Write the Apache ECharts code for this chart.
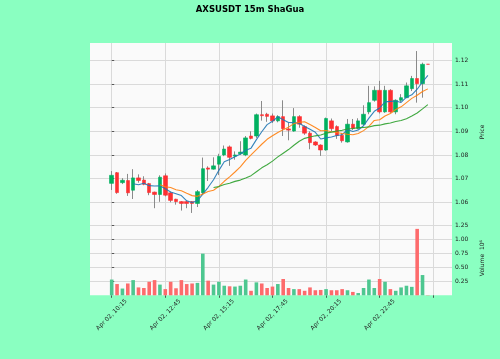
<!DOCTYPE html>
<html><head><meta charset="utf-8">
<script src="https://cdn.jsdelivr.net/npm/echarts@6/dist/echarts.min.js"></script>
<style>html,body{margin:0;padding:0;background:#8affc1;} #c{width:500px;height:359px;}</style>
</head><body><div id="c"></div>
<script>
// ---- data (15m candles, index 0 = Apr 02 10:15) ----
const opens  = [1.0680,1.0725,1.0683,1.0692,1.0651,1.0703,1.0694,1.0679,1.0643,1.0633,
                1.0712,1.0640,1.0613,1.0603,1.0603,1.0603,1.0595,1.0640,1.0745,1.0740,
                1.0761,1.0800,1.0834,1.0795,1.0805,1.0800,1.0880,1.0880,1.0970,1.0972,
                1.0965,1.0944,1.0962,1.0910,1.0901,1.0962,1.0920,1.0892,1.0855,1.0842,
                1.0821,1.0944,1.0920,1.0883,1.0855,1.0930,1.0912,1.0930,1.0982,1.1031,
                1.1073,1.0982,1.1073,1.0982,1.1031,1.1042,1.1080,1.1123,1.1101,1.11832];
const closes = [1.0714,1.0641,1.0693,1.0640,1.0703,1.0692,1.0676,1.0641,1.0633,1.0706,
                1.0630,1.0608,1.0603,1.0595,1.0595,1.0595,1.0645,1.0742,1.0740,1.0754,
                1.0794,1.0825,1.0790,1.0800,1.0812,1.0872,1.0870,1.0970,1.0966,1.0963,
                1.0944,1.0962,1.0911,1.0905,1.0962,1.0930,1.0892,1.0852,1.0842,1.0821,
                1.0954,1.0911,1.0882,1.0860,1.0930,1.0912,1.0944,1.0972,1.1021,1.1073,
                1.0982,1.1073,1.0982,1.1031,1.1042,1.1092,1.1123,1.1101,1.1183,1.1183];
const highs  = [1.0732,1.0728,1.0702,1.0720,1.0740,1.0718,1.0710,1.0682,1.0645,1.0714,
                1.0722,1.0645,1.0615,1.0605,1.0606,1.0605,1.0652,1.0789,1.0752,1.0790,
                1.0805,1.0840,1.0840,1.0815,1.0858,1.0880,1.0900,1.0975,1.1028,1.0978,
                1.0975,1.0968,1.1031,1.0935,1.0998,1.0968,1.0925,1.0900,1.0858,1.0845,
                1.0958,1.0954,1.0925,1.0893,1.0952,1.0952,1.0955,1.1010,1.1092,1.1090,
                1.1113,1.1092,1.1078,1.1035,1.1057,1.1106,1.1134,1.1239,1.1190,1.11832];
const lows   = [1.0652,1.0636,1.0677,1.0627,1.0614,1.0683,1.0672,1.0630,1.0575,1.0602,
                1.0625,1.0600,1.0590,1.0565,1.0575,1.0555,1.0580,1.0635,1.0690,1.0738,
                1.0715,1.0795,1.0754,1.0780,1.0800,1.0795,1.0866,1.0872,1.0945,1.0940,
                1.0935,1.0938,1.0880,1.0862,1.0898,1.0915,1.0885,1.0824,1.0838,1.0796,
                1.0818,1.0900,1.0868,1.0852,1.0852,1.0905,1.0908,1.0925,1.0972,1.1025,
                1.0975,1.0978,1.0978,1.0972,1.1022,1.1040,1.1070,1.1021,1.1042,1.1183];
const volumes = [0.28,0.20,0.12,0.21,0.27,0.14,0.13,0.24,0.27,0.19,
                 0.11,0.24,0.125,0.27,0.20,0.21,0.22,0.74,0.26,0.19,
                 0.24,0.17,0.16,0.155,0.17,0.28,0.08,0.23,0.21,0.13,
                 0.155,0.20,0.29,0.13,0.11,0.11,0.08,0.14,0.09,0.095,
                 0.11,0.09,0.09,0.11,0.09,0.06,0.04,0.13,0.28,0.13,
                 0.29,0.24,0.11,0.08,0.14,0.17,0.15,1.18,0.36,0.005]; // x 10^6
const tickPositions = [0,10,20,30,40,50,60];
const tickLabels = ['Apr 02, 10:15','Apr 02, 12:45','Apr 02, 15:15','Apr 02, 17:45','Apr 02, 20:15','Apr 02, 22:45',''];
const priceTicks = [1.06,1.07,1.08,1.09,1.10,1.11,1.12];
const volumeTicks = [0.25,0.50,0.75,1.00,1.25];
const maWindows = [5,10,20];
const maColors = ['#1f77b4','#ff7f0e','#2ca02c'];

// ---- build ----
const FONT = 'DejaVu Sans';
const GRID = '#dadada';
const UP = '#00b060', DOWN = '#fe3032';
const VUP = '#4dc790', VDOWN = '#fd6b6c';
const n = closes.length;
const wickData = [], bodyData = [], volData = [];
for (let i = 0; i < n; i++) {
  wickData.push([i, opens[i], closes[i], lows[i], highs[i]]);
  bodyData.push([i, opens[i], closes[i], Math.min(opens[i], closes[i]), Math.max(opens[i], closes[i])]);
  volData.push({value: [i, volumes[i]], itemStyle: {color: closes[i] >= opens[i] ? VUP : VDOWN}});
}
const maSeries = maWindows.map((w, k) => {
  const d = [];
  for (let i = w - 1; i < n; i++) {
    let s = 0; for (let j = i - w + 1; j <= i; j++) s += closes[j];
    d.push([i, s / w]);
  }
  return {type: 'line', xAxisIndex: 0, yAxisIndex: 0, data: d, showSymbol: false, symbol: 'none',
          lineStyle: {color: maColors[k], width: 1.1, opacity: 0.9}, z: 5, silent: true};
});

const tickStyle = {show: true, length: 2.5, lineStyle: {color: '#333', width: 0.8}};
const labelStyle = {fontFamily: FONT, fontSize: 6, color: '#222'};

const option = {
  backgroundColor: '#8affc1',
  animation: false,
  title: {text: 'AXSUSDT 15m ShaGua', left: 'center', top: 0,
          textStyle: {fontFamily: FONT, fontSize: 8.5, fontWeight: 'bold', color: '#000'}},
  grid: [
    {left: 90, right: 48, top: 43, height: 178, show: true, backgroundColor: '#fafafa', borderWidth: 0},
    {left: 90, right: 48, top: 221, height: 74.3, show: true, backgroundColor: '#fafafa', borderWidth: 0}
  ],
  xAxis: [
    {type: 'value', gridIndex: 0, min: -4.05, max: 63.5,
     axisLine: {show: false},
     axisTick: {show: false, customValues: tickPositions},
     axisLabel: {show: false, customValues: tickPositions},
     splitLine: {show: true, lineStyle: {color: GRID, width: 1}}},
    {type: 'value', gridIndex: 1, min: -4.05, max: 63.5,
     axisLine: {show: false},
     axisTick: Object.assign({customValues: tickPositions}, tickStyle),
     axisLabel: Object.assign({customValues: tickPositions, rotate: 45, align: 'center', verticalAlign: 'middle', margin: 19.5,
                formatter: v => tickLabels[tickPositions.indexOf(Math.round(v))] || ''}, labelStyle),
     splitLine: {show: true, lineStyle: {color: GRID, width: 1}}}
  ],
  yAxis: [
    {type: 'value', gridIndex: 0, position: 'right', min: 1.0521, max: 1.1273,
     axisLine: {show: false},
     axisTick: Object.assign({customValues: priceTicks}, tickStyle),
     axisLabel: Object.assign({customValues: priceTicks, margin: 3, formatter: v => v.toFixed(2)}, labelStyle),
     splitLine: {show: true, lineStyle: {color: GRID, width: 1}},
     name: 'Price', nameLocation: 'middle', nameRotate: 90, nameGap: 16,
     nameTextStyle: {fontFamily: FONT, fontSize: 6, color: '#222'}},
    {type: 'value', gridIndex: 1, position: 'right', min: 0, max: 1.32,
     axisLine: {show: false},
     axisTick: Object.assign({customValues: volumeTicks}, tickStyle),
     axisLabel: Object.assign({customValues: volumeTicks, margin: 3, formatter: v => v.toFixed(2)}, labelStyle),
     splitLine: {show: true, lineStyle: {color: GRID, width: 1}},
     name: 'Volume  10\u2076', nameLocation: 'middle', nameRotate: 90, nameGap: 16,
     nameTextStyle: {fontFamily: FONT, fontSize: 6, color: '#222'}}
  ],
  series: [
    {type: 'candlestick', name: 'wick', xAxisIndex: 0, yAxisIndex: 0, data: wickData,
     encode: {x: 0, y: [1, 2, 3, 4]}, barWidth: 1, silent: true, z: 2,
     itemStyle: {color: '#8a8a8a', color0: '#8a8a8a', borderColor: '#8a8a8a', borderColor0: '#8a8a8a', borderWidth: 1}},
    {type: 'candlestick', name: 'body', xAxisIndex: 0, yAxisIndex: 0, data: bodyData,
     encode: {x: 0, y: [1, 2, 3, 4]}, barWidth: 4, silent: true, z: 3,
     itemStyle: {color: UP, color0: DOWN, borderColor: UP, borderColor0: DOWN, borderWidth: 0.6}},
    ...maSeries,
    {type: 'bar', name: 'volume', xAxisIndex: 1, yAxisIndex: 1, data: volData, barWidth: 3.6, silent: true}
  ]
};
const chart = echarts.init(document.getElementById('c'), null, {renderer: 'canvas'});
chart.setOption(option);
</script></body></html>
